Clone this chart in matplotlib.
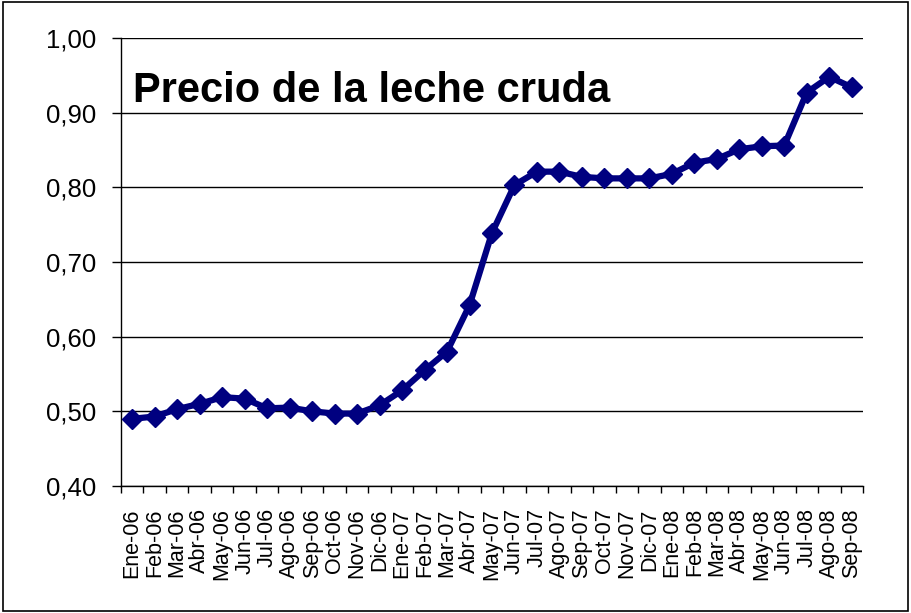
import matplotlib
matplotlib.use("Agg")
import matplotlib.pyplot as plt
from matplotlib.ticker import FuncFormatter
from matplotlib.patches import Rectangle

# Datos: precio de la leche cruda por mes
meses = ["Ene-06", "Feb-06", "Mar-06", "Abr-06", "May-06", "Jun-06", "Jul-06",
         "Ago-06", "Sep-06", "Oct-06", "Nov-06", "Dic-06",
         "Ene-07", "Feb-07", "Mar-07", "Abr-07", "May-07", "Jun-07", "Jul-07",
         "Ago-07", "Sep-07", "Oct-07", "Nov-07", "Dic-07",
         "Ene-08", "Feb-08", "Mar-08", "Abr-08", "May-08", "Jun-08", "Jul-08",
         "Ago-08", "Sep-08"]
precios = [0.490, 0.493, 0.503, 0.510, 0.519, 0.517, 0.504, 0.505, 0.500,
           0.497, 0.497, 0.508,
           0.528, 0.555, 0.580, 0.642, 0.739, 0.803, 0.821, 0.821, 0.814,
           0.812, 0.812, 0.812,
           0.818, 0.833, 0.838, 0.851, 0.855, 0.856, 0.927, 0.948, 0.934]
titulo = "Precio de la leche cruda"
y_ticks = [0.40, 0.50, 0.60, 0.70, 0.80, 0.90, 1.00]

plt.rcParams['font.family'] = ['Liberation Sans', 'DejaVu Sans']

fig = plt.figure(figsize=(9.11, 6.13), dpi=100)
ax = fig.add_axes([0.1328, 0.2072, 0.8145, 0.7308])

x = list(range(len(meses)))
ax.plot(x, precios, color="#000080", lw=4.5, marker="D", ms=10.5,
        mec="#000080", mfc="#000080", zorder=3)

ax.set_xlim(-0.5, len(meses) - 0.5)
ax.set_ylim(0.40, 1.00)
ax.set_yticks(y_ticks)
ax.yaxis.set_major_formatter(FuncFormatter(lambda v, p: f"{v:.2f}".replace(".", ",")))
ax.grid(axis="y", color="black", lw=1.0)
ax.set_axisbelow(True)

# etiquetas en el centro, marcas entre categorias
ax.set_xticks(x)
ax.set_xticklabels(meses, rotation=90, fontsize=15.5)
ax.set_xticks([i - 0.5 for i in range(len(meses) + 1)], minor=True)
ax.tick_params(axis="x", which="major", length=0, pad=16)
ax.tick_params(axis="x", which="minor", length=5, width=1, direction="out")
ax.tick_params(axis="y", length=6.5, width=1, direction="out", pad=11.5,
               labelsize=18.5, labelcolor="black")

for s in ["top", "right"]:
    ax.spines[s].set_visible(False)
for s in ["left", "bottom"]:
    ax.spines[s].set_linewidth(1.0)
    ax.spines[s].set_color("black")

ax.text(0.016, 0.858, titulo, transform=ax.transAxes, fontsize=30,
        fontweight="bold", va="baseline", ha="left")

# marco de la figura
fig.patches.append(Rectangle((0.003, 0.004), 0.994, 0.992, transform=fig.transFigure,
                             fill=False, edgecolor="black", lw=1.2))

fig.savefig("out.png", dpi=100)
